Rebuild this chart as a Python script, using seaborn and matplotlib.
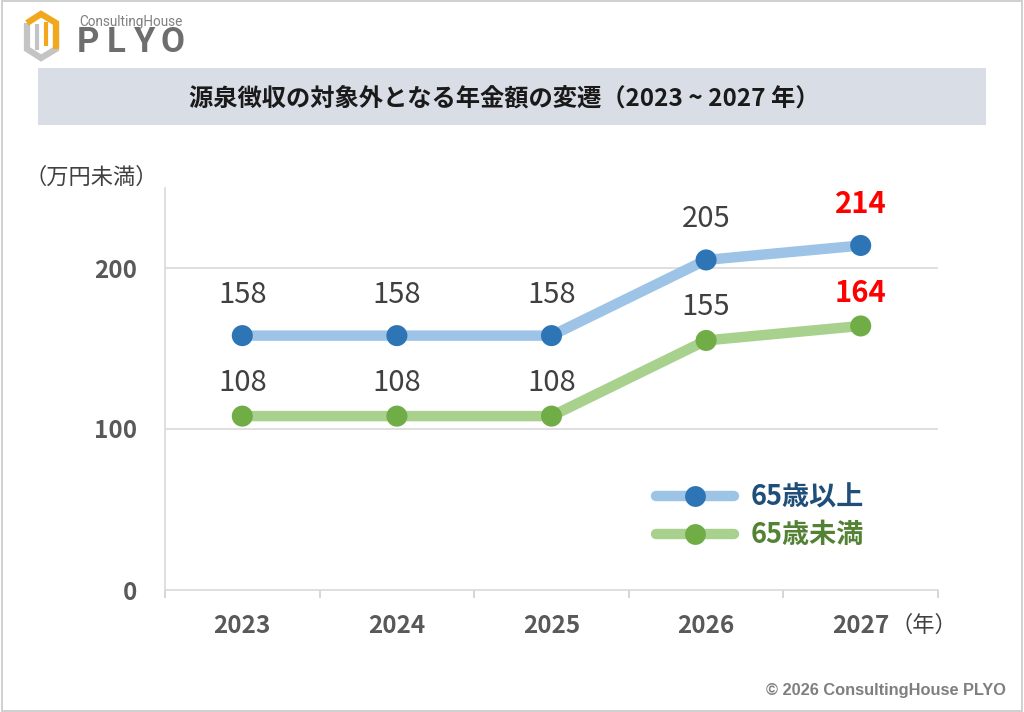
import matplotlib
matplotlib.use("Agg")
import matplotlib.pyplot as plt
import seaborn as sns
import pandas as pd
import numpy as np
from matplotlib.patches import Rectangle, Polygon
from matplotlib.lines import Line2D

years = ["2023", "2024", "2025", "2026", "2027"]
over65 = [158, 158, 158, 205, 214]
under65 = [108, 108, 108, 155, 164]
series_names = ["65歳以上", "65歳未満"]
yticks = [0, 100, 200]

sns.set_theme(style="white")
plt.rcParams['font.family'] = ['Noto Sans CJK JP', 'DejaVu Sans']

W, H = 1024, 712
fig = plt.figure(figsize=(W/100, H/100), dpi=100)
fig.patch.set_facecolor("white")

def fx(px):
    return px / W

def fy(py):
    return 1 - py / H

# figure border
fig.add_artist(Rectangle((0.002, 0.002), 0.996, 0.996, transform=fig.transFigure,
                         fill=False, edgecolor="#c8c8c8", linewidth=1.2))
# title band
fig.add_artist(Rectangle((fx(38), fy(125)), fx(986-38), 57/H, transform=fig.transFigure,
                         facecolor="#d9dde6", edgecolor="none"))
fig.text(fx(504), fy(99), "源泉徴収の対象外となる年金額の変遷（2023 ~ 2027 年）",
         ha="center", va="center", fontsize=17.5, fontweight="bold", color="#1a1a1a")

# logo
hex_pts = [(27, 23), (41, 14), (56, 23), (56, 49), (41, 58), (27, 49)]
fig.add_artist(Polygon([(fx(a), fy(b)) for a, b in [hex_pts[2], hex_pts[3], hex_pts[4], hex_pts[5], hex_pts[0]]],
                       closed=False, fill=False, edgecolor="#c4c4c4", linewidth=4.5,
                       transform=fig.transFigure))
fig.add_artist(Polygon([(fx(a), fy(b)) for a, b in [hex_pts[0], hex_pts[1], hex_pts[2], hex_pts[3]]],
                       closed=False, fill=False, edgecolor="#f2a81d", linewidth=4.5,
                       transform=fig.transFigure))
fig.add_artist(Polygon([(fx(a), fy(b)) for a, b in [(37, 24), (37, 50)]], closed=False,
                       fill=False, edgecolor="#c4c4c4", linewidth=3, transform=fig.transFigure))
fig.add_artist(Polygon([(fx(a), fy(b)) for a, b in [(46, 22), (46, 46)]], closed=False,
                       fill=False, edgecolor="#f2a81d", linewidth=3, transform=fig.transFigure))
fig.text(fx(131), fy(22), "ConsultingHouse", fontsize=9.8, color="#808080",
         ha="center", va="center", family=["Roboto", "DejaVu Sans"])
for ch, cx in zip("PLYO", [88, 116, 145, 173]):
    fig.text(fx(cx), fy(43), ch, fontsize=25, color="#6e6e6e", fontweight="bold",
             ha="center", va="center", family=["Roboto", "DejaVu Sans"])

ax = fig.add_axes([fx(165), fy(590), fx(938-165), (590-187.5)/H])
x = np.arange(len(years))
df = pd.DataFrame({"x": np.concatenate([x, x]),
                   "value": over65 + under65,
                   "series": [series_names[0]]*5 + [series_names[1]]*5})

line_cols = {"65歳以上": "#9dc3e6", "65歳未満": "#a9d18e"}
mark_cols = {"65歳以上": "#2e75b6", "65歳未満": "#70ad47"}
text_cols = {"65歳以上": "#1f4e79", "65歳未満": "#548235"}

for name in series_names:
    sub = df[df.series == name]
    sns.lineplot(data=sub, x="x", y="value", ax=ax, color=line_cols[name], linewidth=7.5,
                 solid_capstyle="round", zorder=2, legend=False)
    sns.scatterplot(data=sub, x="x", y="value", ax=ax, color=mark_cols[name], s=230,
                    edgecolor="none", zorder=3, legend=False)

for vals, off in [(over65, 29.5), (under65, 24)]:
    for i, v in enumerate(vals):
        last = i == len(vals) - 1
        ax.annotate(str(v), (i, v), xytext=(0, off), textcoords="offset points",
                    ha="center", va="center", fontsize=21,
                    color="#ff0000" if last else "#404040",
                    fontweight="bold" if last else "normal")

ax.set_xlim(-0.5, 4.5)
ax.set_ylim(0, 250)
ax.set_yticks(yticks)
ax.set_yticklabels([str(t) for t in yticks], fontsize=17.5, fontweight="bold", color="#595959")
ax.set_xticks(x)
ax.set_xticklabels(years, fontsize=17.5, fontweight="bold", color="#595959")
ax.tick_params(axis="x", which="major", length=0, pad=17)
ax.tick_params(axis="y", length=0, pad=20)
ax.set_xticks(np.arange(-0.5, 5, 1), minor=True)
ax.tick_params(axis="x", which="minor", bottom=True, length=6, color="#d0d0d0", width=1.2,
               direction="out")
ax.set_xlabel("")
ax.set_ylabel("")
for t in yticks[1:]:
    ax.axhline(t, color="#d9d9d9", linewidth=1.2, zorder=1)
for s in ["top", "right"]:
    ax.spines[s].set_visible(False)
for s in ["left", "bottom"]:
    ax.spines[s].set_color("#d9d9d9")
    ax.spines[s].set_linewidth(1.2)

handles = [Line2D([0], [0], color=line_cols[n], linewidth=7.5, solid_capstyle="round",
                  marker="o", markersize=15, markerfacecolor=mark_cols[n],
                  markeredgecolor="none") for n in series_names]
leg = ax.legend(handles, series_names, loc="center left",
                bbox_to_anchor=((655.5-165)/773, (590-516.5)/402.5),
                frameon=False, handlelength=2.9, handletextpad=0.6, labelspacing=0.36,
                borderpad=0, borderaxespad=0, prop={"size": 19.5, "weight": "bold"})
for txt, n in zip(leg.get_texts(), series_names):
    txt.set_color(text_cols[n])

fig.text(fx(158), fy(177), "（万円未満）", ha="right", va="center", fontsize=16, color="#404040")
fig.text(fx(890), fy(625), "（年）", ha="left", va="center", fontsize=16, color="#404040")
fig.text(fx(1006), fy(690), "© 2026 ConsultingHouse PLYO", ha="right", va="center",
         fontsize=11.8, fontweight="bold", color="#7f7f7f", family=["Liberation Sans", "DejaVu Sans"])

fig.savefig("out.png", dpi=100, facecolor="white")
